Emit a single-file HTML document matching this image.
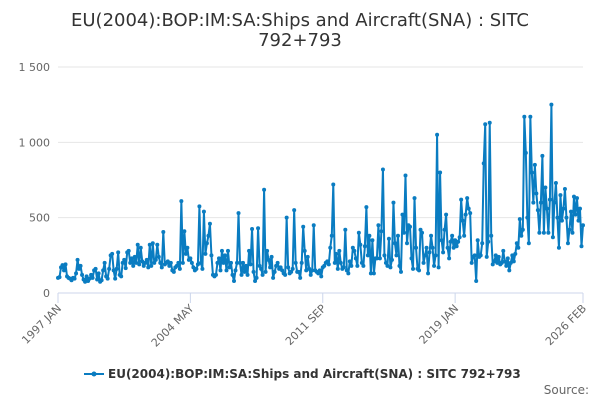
<!DOCTYPE html>
<html><head><meta charset="utf-8"><style>
body{margin:0;background:#fff;font-family:"Liberation Sans",sans-serif}
svg text{font-family:"DejaVu Sans","Liberation Sans",sans-serif}
</style></head><body>
<svg id="c" width="600" height="400">
<text x="300" y="26" text-anchor="middle" font-size="18" fill="#333">EU(2004):BOP:IM:SA:Ships and Aircraft(SNA) : SITC</text>
<text x="300" y="46" text-anchor="middle" font-size="18" fill="#333">792+793</text>
<g id="grid"></g><g id="plot"></g>
<g>
<line x1="84" y1="374" x2="104" y2="374" stroke="#0a7cc1" stroke-width="2"/>
<circle cx="94" cy="374" r="2.5" fill="#0a7cc1"/>
<text x="108" y="378" font-size="12" font-weight="bold" fill="#333">EU(2004):BOP:IM:SA:Ships and Aircraft(SNA) : SITC 792+793</text>
</g>
<text x="589" y="394" text-anchor="end" font-size="12" fill="#666">Source:</text>
</svg>
<script>
const yTicks=[0,500,1000,1500];
const yTickLabels=["0","500","1 000","1 500"];
const xTickIdx=[0,88,176,264,349];
const xTickLabels=["1997 JAN","2004 MAY","2011 SEP","2019 JAN","2026 FEB"];
const values=[
100,105,170,185,150,190,110,100,95,85,
100,95,130,220,160,180,120,90,75,110,
80,95,120,100,150,160,90,130,75,85,
150,200,110,95,160,250,260,150,95,160,
270,120,110,200,220,165,270,280,200,230,
180,240,200,320,190,300,210,180,200,220,
170,320,180,330,200,220,320,240,200,170,
405,190,200,210,180,200,150,140,170,180,
200,160,610,200,410,260,300,220,230,200,
170,150,160,190,575,200,160,540,260,330,
380,460,250,120,110,120,200,230,150,280,
200,250,150,280,170,200,120,80,150,200,
530,200,120,200,140,180,120,280,190,425,
140,80,100,430,180,160,120,685,140,280,
220,170,240,100,140,180,200,160,170,150,
130,120,500,170,130,140,160,550,200,140,
140,100,200,440,280,150,240,160,120,150,
450,150,140,130,150,110,170,180,200,210,
190,300,380,720,200,260,160,280,200,160,
170,420,150,130,210,180,300,280,230,180,
400,320,200,180,310,570,250,380,130,350,
130,230,230,450,230,410,820,250,200,180,
360,170,220,600,330,250,380,180,140,520,
400,780,330,450,440,230,160,630,300,160,
150,420,400,200,250,300,130,270,380,300,
180,250,1050,170,800,350,270,420,520,300,
230,340,380,300,350,310,340,370,620,480,
380,520,630,560,530,200,240,250,80,350,
240,250,330,860,1120,240,340,1130,380,190,
210,250,200,240,190,200,280,210,180,230,
150,200,250,210,260,330,300,490,380,420,
1170,930,500,330,1170,800,600,850,660,550,
400,600,910,400,700,560,400,620,1250,370,
600,730,500,300,650,480,560,690,500,330,
420,540,400,640,520,630,480,560,310,450];
const X0=58,X1=583,Y0=293,Y1=67,NS="http://www.w3.org/2000/svg";
const n=values.length;
const xs=i=>X0+(X1-X0)*i/(n-1);
const ys=v=>Y0-(Y0-Y1)*v/1500;
const grid=document.getElementById('grid'),plot=document.getElementById('plot');
function mk(tag,attrs,parent){const e=document.createElementNS(NS,tag);for(const k in attrs)e.setAttribute(k,attrs[k]);parent.appendChild(e);return e;}
yTicks.forEach((t,i)=>{
 const l=mk('line',{x1:X0,x2:X1,y1:ys(t),y2:ys(t),stroke:t===0?'#ccd6eb':'#e6e6e6'},grid);
 
 
 const tx=mk('text',{x:X0-8,y:ys(t)+4,'text-anchor':'end','font-size':11,fill:'#666'},grid);
 tx.textContent=yTickLabels[i];
 
 
});
xTickIdx.forEach((idx,i)=>{
 const x=xs(idx);
 const l=mk('line',{x1:x,x2:x,y1:Y0,y2:Y0+10,stroke:'#ccd6eb'},grid);
 
 
 const tx=mk('text',{x:x+4,y:Y0+16,'text-anchor':'end','font-size':11,fill:'#666',transform:`rotate(-45 ${x+4} ${Y0+16})`},grid);
 tx.textContent=xTickLabels[i];
 
 
});
const p=mk('path',{d:values.map((v,i)=>(i?'L':'M')+xs(i).toFixed(2)+' '+ys(v).toFixed(2)).join(''),fill:'none',stroke:'#0a7cc1','stroke-width':2,'stroke-linejoin':'round'},plot);


values.forEach((v,i)=>{
 const c=mk('circle',{cx:xs(i),cy:ys(v),r:2,fill:'#0a7cc1'},plot);
 
 
});
</script>
</body></html>
